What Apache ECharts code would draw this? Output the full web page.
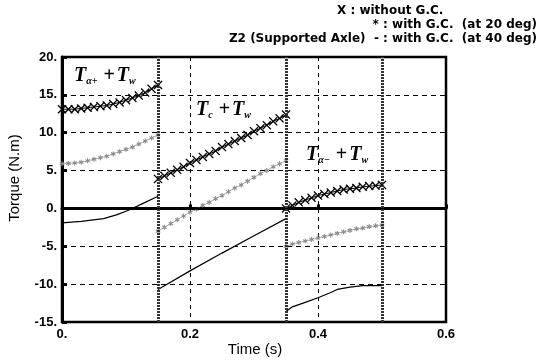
<!DOCTYPE html>
<html>
<head>
<meta charset="utf-8">
<script src="https://cdn.jsdelivr.net/npm/echarts@6/dist/echarts.min.js"></script>
<style>
  html, body {margin: 0; padding: 0; background: #fff;}
  #chart {width: 541px; height: 361px;}
</style>
</head>
<body>
<div id="chart"></div>
<script>
// segment 1: 0 - 0.15 s
const tA = [0, 0.01, 0.02, 0.03, 0.04, 0.05, 0.06, 0.07, 0.08, 0.09, 0.10, 0.11, 0.12, 0.13, 0.14, 0.15];
const noGcA = [13.1, 13.1, 13.1, 13.2, 13.3, 13.4, 13.5, 13.6, 13.8, 14.0, 14.3, 14.6, 14.9, 15.3, 15.8, 16.3];
const gc20A = [5.9, 5.95, 6.0, 6.1, 6.3, 6.5, 6.7, 6.9, 7.2, 7.5, 7.8, 8.1, 8.5, 8.9, 9.3, 9.7];
const tLineA = [0, 0.03, 0.065, 0.085, 0.105, 0.125, 0.15];
const gc40A = [-1.9, -1.7, -1.35, -0.85, -0.2, 0.6, 1.6];

// segment 2: 0.15 - 0.35 s
const tB = [0.15, 0.16, 0.17, 0.18, 0.19, 0.20, 0.21, 0.22, 0.23, 0.24, 0.25, 0.26, 0.27, 0.28, 0.29, 0.30, 0.31, 0.32, 0.33, 0.34, 0.35];
const noGcB = [3.9, 4.3, 4.7, 5.1, 5.5, 6.0, 6.4, 6.8, 7.2, 7.6, 8.1, 8.5, 8.9, 9.3, 9.7, 10.2, 10.6, 11.0, 11.5, 11.9, 12.4];
const gc20B = [-3.0, -2.5, -2.0, -1.5, -1.0, -0.5, -0.1, 0.4, 0.8, 1.3, 1.7, 2.2, 2.7, 3.1, 3.6, 4.1, 4.6, 5.0, 5.5, 5.9, 6.3];
const tLineB = [0.15, 0.2, 0.25, 0.3, 0.35];
const gc40B = [-10.7, -8.25, -5.9, -3.6, -1.35];

// segment 3: 0.35 - 0.5 s
const tC = [0.35, 0.36, 0.37, 0.38, 0.39, 0.40, 0.41, 0.42, 0.43, 0.44, 0.45, 0.46, 0.47, 0.48, 0.49, 0.50];
const noGcC = [0.0, 0.4, 0.8, 1.1, 1.4, 1.7, 1.9, 2.1, 2.3, 2.5, 2.6, 2.7, 2.85, 2.95, 3.0, 3.1];
const gc20C = [-5.0, -4.7, -4.5, -4.3, -4.1, -3.9, -3.7, -3.5, -3.3, -3.1, -2.9, -2.7, -2.6, -2.4, -2.3, -2.2];
const tLineC = [0.35, 0.36, 0.38, 0.40, 0.42, 0.43, 0.45, 0.47, 0.50];
const gc40C = [-13.6, -13.0, -12.4, -11.8, -11.1, -10.7, -10.4, -10.2, -10.2];

const boundaries = [0.15, 0.35, 0.5];

const zip = (t, v) => t.map((x, i) => [x, v[i]]);

const crossPath = 'path://M0,1L1,0L5,4L9,0L10,1L6,5L10,9L9,10L5,6L1,10L0,9L4,5Z';
const starPath = 'path://M4,0H6V3.3L8.6,1.4L9.8,3L7,5L9.8,7L8.6,8.6L6,6.7V10H4V6.7L1.4,8.6L0.2,7L3,5L0.2,3L1.4,1.4L4,3.3Z';

const noGc = s => ({
  type: 'line', data: s, symbol: crossPath, symbolSize: 9, showAllSymbol: true,
  itemStyle: {color: '#000'}, lineStyle: {color: '#000', width: 1}, animation: false
});
const gc20 = s => ({
  type: 'line', data: s, symbol: starPath, symbolSize: 5, showAllSymbol: true,
  itemStyle: {color: '#8a8a8a'}, lineStyle: {color: '#b0b0b0', width: 1}, animation: false
});
const gc40 = s => ({
  type: 'line', data: s, symbol: 'none',
  lineStyle: {color: '#000', width: 1.2}, animation: false
});

const labelFont = {color: '#000', fontFamily: 'Liberation Sans', fontWeight: 'bold', fontSize: 13};
const termRich = {
  t: {fontFamily: 'Liberation Serif', fontStyle: 'italic', fontWeight: 'bold', fontSize: 20, color: '#000'},
  p: {fontFamily: 'Liberation Serif', fontWeight: 'bold', fontSize: 20, color: '#000', padding: [0, 2, 0, 6]},
  s: {fontFamily: 'Liberation Serif', fontStyle: 'italic', fontWeight: 'bold', fontSize: 10, color: '#000', verticalAlign: 'bottom', padding: [8, 0, 0, 0]}
};
const headFont = 'bold 12px "DejaVu Sans"';

const chart = echarts.init(document.getElementById('chart'));
chart.setOption({
  backgroundColor: '#fff',
  animation: false,
  grid: {left: 62, right: 95, top: 57, bottom: 39, show: true, borderColor: '#000', borderWidth: 2.5},
  xAxis: {
    type: 'value', min: 0, max: 0.6, interval: 0.2,
    axisLine: {show: true, lineStyle: {color: '#000', width: 3}},
    axisTick: {show: true, inside: true, length: 4, lineStyle: {color: '#000', width: 3}},
    axisLabel: {...labelFont, margin: 6, formatter: v => (v === 0 ? '0.' : v)},
    splitLine: {show: true, lineStyle: {color: '#000', type: [4, 4], width: 1}}
  },
  yAxis: {
    type: 'value', min: -15, max: 20, interval: 5,
    axisLine: {show: true, lineStyle: {color: '#000', width: 3}},
    axisTick: {show: true, inside: true, length: 5, lineStyle: {color: '#000', width: 3}},
    axisLabel: {...labelFont, margin: 5, formatter: v => v + '.'},
    splitLine: {show: true, lineStyle: {color: '#000', type: [5, 4], width: 1}}
  },
  graphic: [
    {type: 'text', x: 337, y: 5, style: {text: 'X : without G.C.', font: headFont, fill: '#000'}},
    {type: 'text', x: 537, y: 19, style: {text: '* : with G.C.  (at 20 deg)', font: headFont, fill: '#000', align: 'right'}},
    {type: 'text', x: 537, y: 33, style: {text: 'Z2 (Supported Axle)  - : with G.C.  (at 40 deg)', font: headFont, fill: '#000', align: 'right'}},
    {type: 'text', x: 15, y: 178, rotation: Math.PI / 2, style: {text: 'Torque (N.m)', font: '15px "Liberation Sans"', fill: '#000', align: 'center', verticalAlign: 'middle'}},
    {type: 'text', x: 255, y: 350, style: {text: 'Time (s)', font: '15px "Liberation Sans"', fill: '#000', align: 'center', verticalAlign: 'middle'}},
    {type: 'text', x: 74, y: 66, style: {text: '{t|T}{s|α+}{p|+}{t|T}{s|w}', rich: termRich}},
    {type: 'text', x: 196, y: 100, style: {text: '{t|T}{s|c}{p|+}{t|T}{s|w}', rich: termRich}},
    {type: 'text', x: 306, y: 145, style: {text: '{t|T}{s|α−}{p|+}{t|T}{s|w}', rich: termRich}}
  ],
  series: [
    {
      type: 'line', data: [], silent: true,
      markLine: {
        silent: true, symbol: 'none', label: {show: false}, animation: false,
        data: [
          {yAxis: 0, lineStyle: {color: '#000', width: 2.5, type: 'solid'}},
          ...boundaries.map(b => ({xAxis: b, lineStyle: {color: '#333', width: 3, type: [2, 1]}}))
        ]
      }
    },
    noGc(zip(tA, noGcA)), gc20(zip(tA, gc20A)), gc40(zip(tLineA, gc40A)),
    noGc(zip(tB, noGcB)), gc20(zip(tB, gc20B)), gc40(zip(tLineB, gc40B)),
    noGc(zip(tC, noGcC)), gc20(zip(tC, gc20C)), gc40(zip(tLineC, gc40C))
  ]
});
</script>
</body>
</html>
